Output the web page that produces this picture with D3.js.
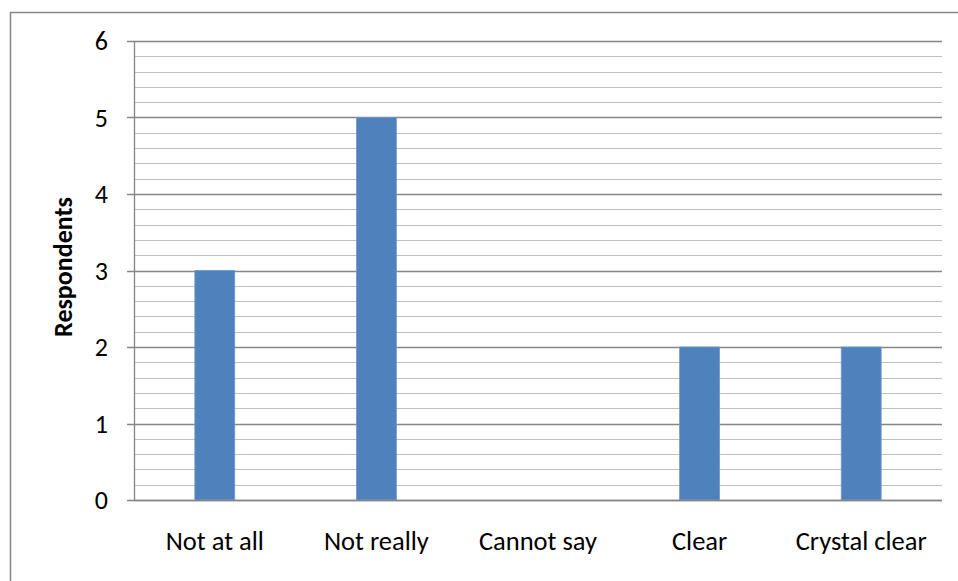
<!DOCTYPE html>
<html>
<head>
<meta charset="utf-8">
<script src="https://cdn.jsdelivr.net/npm/d3@7"></script>
<style>
  body { margin: 0; background: #fff; }
  svg { display: block; }
</style>
</head>
<body>
<svg id="chart" width="958" height="581"></svg>
<script>
// chart data
const categories = ["Not at all", "Not really", "Cannot say", "Clear", "Crystal clear"];
const respondents = [3, 5, 0, 2, 2];
const yTicks = [0, 1, 2, 3, 4, 5, 6];
const yTitle = "Respondents";

const svg = d3.select("#chart");
const margin = {top: 41, right: 16, bottom: 81, left: 134};
const width = 958, height = 581;
const fontFam = "Carlito, Calibri, 'Open Sans', 'Liberation Sans', sans-serif";

// outer frame (only left and top edges fall inside the picture)
svg.append("path")
   .attr("d", "M10.5,581 L10.5,12.5 L958,12.5")
   .attr("fill", "none")
   .attr("stroke", "#868686")
   .attr("stroke-width", 1.5);

let x = d3.scaleBand()
          .domain(categories)
          .range([margin.left, width - margin.right])
          .paddingInner(0.753)
          .paddingOuter(0.753 / 2);

let y = d3.scaleLinear()
          .domain([0, 6])
          .range([height - margin.bottom, margin.top]);

// minor gridlines
let minor = d3.range(0, 6.001, 0.2).filter(v => Math.abs(v - Math.round(v)) > 0.01);
svg.append("g")
   .selectAll("line")
   .data(minor)
   .enter().append("line")
   .attr("x1", margin.left)
   .attr("x2", width - margin.right)
   .attr("y1", d => Math.round(y(d)) + 0.5)
   .attr("y2", d => Math.round(y(d)) + 0.5)
   .attr("stroke", "#bfbfbf")
   .attr("stroke-width", 1);

// major gridlines + tick marks
svg.append("g")
   .selectAll("line")
   .data(yTicks)
   .enter().append("line")
   .attr("x1", margin.left - 7)
   .attr("x2", width - margin.right)
   .attr("y1", d => Math.round(y(d)) + 0.5)
   .attr("y2", d => Math.round(y(d)) + 0.5)
   .attr("stroke", "#868686")
   .attr("stroke-width", 1.3);

// bars
svg.append("g")
   .selectAll("rect")
   .data(respondents)
   .enter().append("rect")
   .attr("x", (d, i) => x(categories[i]))
   .attr("y", d => y(d))
   .attr("width", x.bandwidth())
   .attr("height", d => y(0) - y(d))
   .attr("fill", "#4f81bd")
   .attr("stroke", d => d > 0 ? "#6f97cb" : "none")
   .attr("stroke-width", 0.8);

// y axis line
svg.append("line")
   .attr("x1", margin.left + 0.5).attr("x2", margin.left + 0.5)
   .attr("y1", y(6)).attr("y2", y(0))
   .attr("stroke", "#868686")
   .attr("stroke-width", 1.3);

// x axis line
svg.append("line")
   .attr("x1", margin.left).attr("x2", width - margin.right)
   .attr("y1", Math.round(y(0)) + 0.5).attr("y2", Math.round(y(0)) + 0.5)
   .attr("stroke", "#868686")
   .attr("stroke-width", 1.5);

// y tick labels
svg.append("g")
   .selectAll("text")
   .data(yTicks)
   .enter().append("text")
   .attr("x", 108)
   .attr("y", d => y(d))
   .attr("dy", "0.35em")
   .attr("text-anchor", "end")
   .attr("font-family", fontFam)
   .attr("font-size", 26)
   .attr("fill", "#000")
   .text(d => d);

// x labels
svg.append("g")
   .selectAll("text")
   .data(categories)
   .enter().append("text")
   .attr("x", d => x(d) + x.bandwidth() / 2)
   .attr("y", 550)
   .attr("text-anchor", "middle")
   .attr("font-family", fontFam)
   .attr("font-size", 26.5)
   .attr("fill", "#000")
   .text(d => d);

// y title
svg.append("text")
   .attr("transform", "translate(72,267) rotate(-90)")
   .attr("text-anchor", "middle")
   .attr("font-family", fontFam)
   .attr("font-size", 26)
   .attr("font-weight", "bold")
   .text(yTitle);
</script>
</body>
</html>
